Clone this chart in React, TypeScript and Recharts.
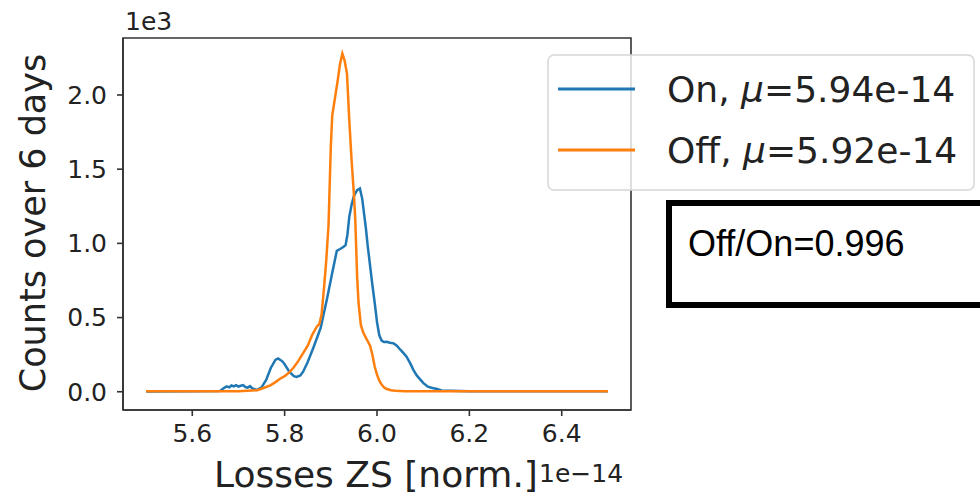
import { LineChart, Line, XAxis, YAxis, ReferenceArea } from 'recharts'

// loss distributions, losses in units of 1e-14, counts over 6 days
const onLoss = [5.50, 5.60, 5.66, 5.67, 5.675, 5.68, 5.685, 5.69, 5.695, 5.70, 5.705, 5.71, 5.715, 5.72, 5.725, 5.73, 5.74, 5.75, 5.76, 5.77, 5.78, 5.786, 5.795, 5.80, 5.81, 5.82, 5.826, 5.834, 5.84, 5.85, 5.863, 5.878, 5.892, 5.903, 5.913, 5.92, 5.927, 5.932, 5.936, 5.94, 5.945, 5.95, 5.957, 5.963, 5.968, 5.972, 5.976, 5.98, 5.985, 5.99, 5.995, 6.00, 6.005, 6.01, 6.015, 6.021, 6.028, 6.036, 6.043, 6.05, 6.057, 6.064, 6.072, 6.079, 6.086, 6.093, 6.10, 6.11, 6.12, 6.13, 6.14, 6.20, 6.30, 6.50]
const onCounts = [2, 3, 5, 28, 36, 30, 42, 36, 44, 35, 40, 45, 32, 28, 38, 22, 12, 30, 80, 160, 215, 225, 205, 185, 135, 105, 100, 110, 135, 200, 303, 430, 630, 800, 950, 962, 975, 988, 1060, 1180, 1260, 1320, 1358, 1370, 1300, 1200, 1100, 980, 850, 720, 600, 470, 380, 345, 335, 337, 330, 326, 310, 285, 262, 236, 191, 146, 110, 85, 60, 34, 25, 18, 8, 4, 3, 3]

const offLoss = [5.50, 5.60, 5.70, 5.74, 5.75, 5.76, 5.77, 5.78, 5.79, 5.80, 5.81, 5.82, 5.83, 5.84, 5.85, 5.86, 5.87, 5.875, 5.88, 5.885, 5.89, 5.895, 5.90, 5.903, 5.91, 5.915, 5.92, 5.925, 5.93, 5.935, 5.94, 5.945, 5.95, 5.953, 5.957, 5.96, 5.965, 5.97, 5.975, 5.98, 5.985, 5.99, 5.995, 6.00, 6.005, 6.01, 6.015, 6.02, 6.03, 6.04, 6.06, 6.10, 6.20, 6.30, 6.40, 6.50]
const offCounts = [3, 3, 4, 10, 20, 32, 45, 65, 88, 105, 130, 165, 210, 260, 310, 385, 440, 455, 520, 690, 880, 1120, 1650, 1860, 2000, 2100, 2210, 2279, 2230, 2144, 1830, 1560, 1330, 1156, 774, 600, 450, 400, 370, 340, 310, 250, 170, 115, 75, 48, 30, 20, 10, 6, 4, 4, 3, 3, 3, 3]

const lossTicks = [5.6, 5.8, 6.0, 6.2, 6.4]
const countTicks = [0, 500, 1000, 1500, 2000]
const lossDomain = [5.45, 6.55]
const countDomain = [-123, 2384]

const seriesKeys = ['on', 'off']
const seriesLabels = ['On', 'Off']
const seriesMeans = ['5.94e-14', '5.92e-14']
const seriesColors = ['#1f77b4', '#ff7f0e']

const ratioLabel = 'Off/On=0.996'

type Row = { loss: number; on?: number; off?: number }

// merge both series onto one table keyed by loss value
function buildRows(): Row[] {
  const byLoss = new Map<number, Row>()
  const add = (xs: number[], ys: number[], key: 'on' | 'off') => {
    xs.forEach((x, i) => {
      const row = byLoss.get(x) ?? { loss: x }
      row[key] = ys[i]
      byLoss.set(x, row)
    })
  }
  add(onLoss, onCounts, 'on')
  add(offLoss, offCounts, 'off')
  return [...byLoss.values()].sort((a, b) => a.loss - b.loss)
}

const rows = buildRows()

const FONT = '"DejaVu Sans", sans-serif'
const AXIS = '#333'
const TEXT = '#222'

export default function App() {
  return (
    <div style={{ position: 'absolute', left: 0, top: 0, width: 980, height: 496, background: '#fff', fontFamily: FONT }}>
      <LineChart
        width={980}
        height={496}
        data={rows}
        margin={{ top: 38, right: 349, bottom: 46, left: 0 }}
      >
        <XAxis
          dataKey="loss"
          type="number"
          domain={lossDomain}
          ticks={lossTicks}
          tickFormatter={(v: number) => v.toFixed(1)}
          allowDataOverflow
          height={40}
          stroke={AXIS}
          strokeWidth={1.6}
          tickSize={6}
          tickMargin={8}
          tick={{ fontSize: 25, fill: TEXT, fontFamily: FONT }}
        />
        <YAxis
          type="number"
          domain={countDomain}
          ticks={countTicks}
          tickFormatter={(v: number) => (v / 1000).toFixed(1)}
          allowDataOverflow
          width={123}
          stroke={AXIS}
          strokeWidth={1.6}
          tickSize={6}
          tickMargin={10}
          tick={{ fontSize: 25, fill: TEXT, fontFamily: FONT }}
        />
        {/* plot frame on all four sides */}
        <ReferenceArea
          x1={lossDomain[0]}
          x2={lossDomain[1]}
          y1={countDomain[0]}
          y2={countDomain[1]}
          fill="none"
          stroke={AXIS}
          strokeWidth={1.6}
        />
        {seriesKeys.map((k, i) => (
          <Line
            key={k}
            dataKey={k}
            name={seriesLabels[i]}
            type="linear"
            stroke={seriesColors[i]}
            strokeWidth={2.5}
            dot={false}
            connectNulls
            isAnimationActive={false}
          />
        ))}
      </LineChart>

      <svg
        width={980}
        height={496}
        style={{ position: 'absolute', left: 0, top: 0, pointerEvents: 'none' }}
        fontFamily={FONT}
      >
        {/* axis offsets and titles */}
        <text x={125} y={30} fontSize={25} fill={TEXT}>1e3</text>
        <text
          x={0}
          y={0}
          fontSize={35}
          fill={TEXT}
          textAnchor="middle"
          dominantBaseline="central"
          transform="translate(33 223) rotate(-90)"
        >
          Counts over 6 days
        </text>
        <text x={214} y={487} fontSize={36} fill={TEXT}>Losses ZS [norm.]</text>
        <text x={539} y={482} fontSize={25} fill={TEXT}>1e−14</text>

        {/* legend */}
        <rect x={548} y={55} width={426} height={135} rx={6} fill="#fff" fillOpacity={0.8} stroke="#d6d6d6" strokeWidth={1.5} />
        {seriesLabels.map((label, i) => (
          <g key={label}>
            <line x1={558} x2={635} y1={89 + i * 61} y2={89 + i * 61} stroke={seriesColors[i]} strokeWidth={3} />
            <text x={667} y={102 + i * 61} fontSize={36} fill={TEXT}>
              {label}, <tspan fontStyle="italic">μ</tspan>={seriesMeans[i]}
            </text>
          </g>
        ))}

        {/* ratio box */}
        <rect x={669} y={203} width={330} height={102} fill="#fff" stroke="#000" strokeWidth={6} />
        <text x={688} y={256} fontSize={36} fill="#000" fontFamily='"Liberation Sans", Arial, sans-serif'>
          {ratioLabel}
        </text>
      </svg>
    </div>
  )
}
